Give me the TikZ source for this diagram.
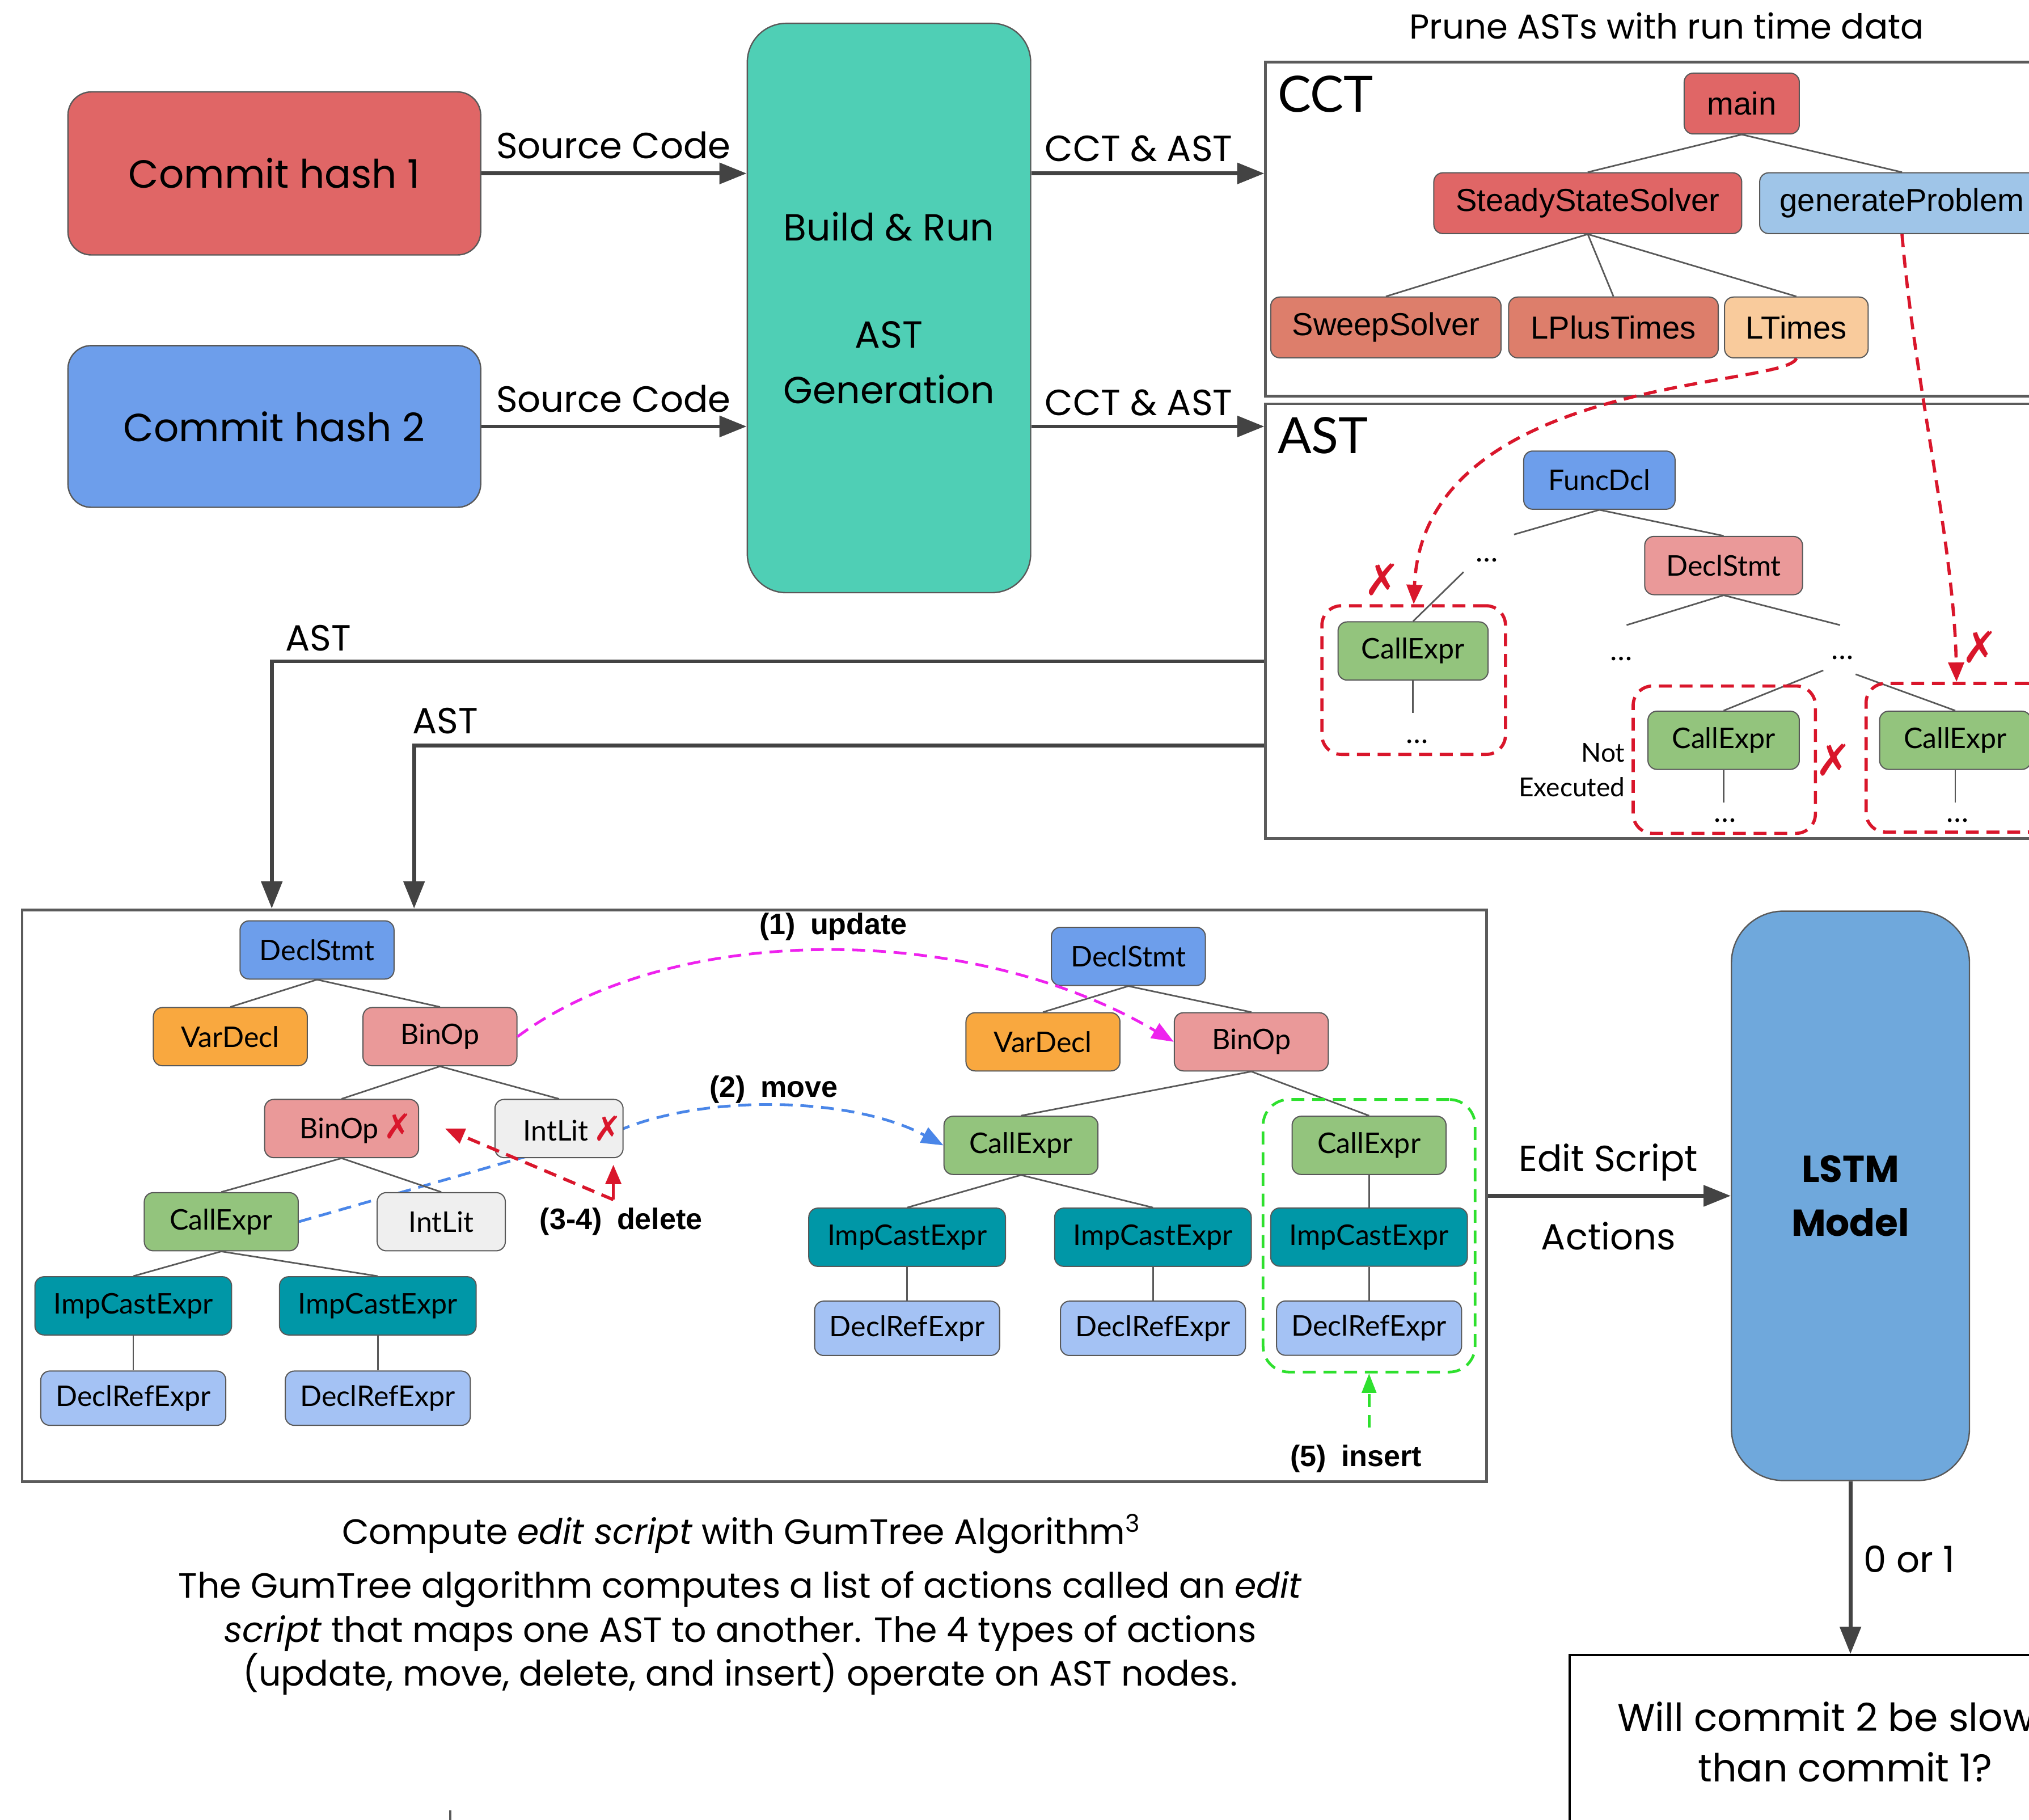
\documentclass[tikz,border=0pt]{standalone}
\usepackage{fontspec}
\usetikzlibrary{positioning,fit,backgrounds,arrows.meta}

\newfontfamily\gothic{Poppins}
\newfontfamily\gill{Lato}
\newfontfamily\arialf{Liberation Sans}
\newfontfamily\symf{DejaVu Sans}

\definecolor{flowgrey}{HTML}{434343}
\definecolor{panelgrey}{HTML}{5B5B5B}
\definecolor{nodegrey}{HTML}{595959}
\definecolor{commitred}{HTML}{E06666}
\definecolor{commitblue}{HTML}{6D9EEB}
\definecolor{buildteal}{HTML}{4FCFB5}
\definecolor{lstmblue}{HTML}{6FA8DC}
\definecolor{cctred}{HTML}{E06666}
\definecolor{cctsalmon}{HTML}{DD7E6B}
\definecolor{cctpeach}{HTML}{F9CB9C}
\definecolor{cctblue}{HTML}{9FC5E8}
\definecolor{astblue}{HTML}{6D9EEB}
\definecolor{astorange}{HTML}{F9A83F}
\definecolor{astpink}{HTML}{EA9999}
\definecolor{astgrey}{HTML}{EFEFEF}
\definecolor{astgreen}{HTML}{93C47D}
\definecolor{astteal}{HTML}{0097A7}
\definecolor{astlblue}{HTML}{A4C2F4}
\definecolor{xred}{HTML}{D9162B}
\definecolor{updmag}{HTML}{EE22EE}
\definecolor{movblue}{HTML}{4A86E8}
\definecolor{insgreen}{HTML}{2EE02E}

\newcommand{\xmark}{{\symf\fontsize{15}{15}\selectfont\color{xred}✗}}

\begin{document}
\begin{tikzpicture}[x=0.02cm, y=-0.02cm]
  \tikzset{
    flow/.style={draw=flowgrey, line width=1.7pt, -{Triangle[length=0.42cm, width=0.32cm]}},
    bigbox/.style={draw=nodegrey, line width=0.6pt, align=center, inner sep=0pt, font=\gothic\fontsize{17.3}{24.4}\selectfont},
    panel/.style={draw=panelgrey, line width=1.2pt, inner sep=0pt},
    flowlbl/.style={font=\gothic\fontsize{16}{19}\selectfont, inner sep=0pt},
    cctnode/.style={draw=nodegrey, line width=0.5pt, rounded corners=0.14cm, minimum height=0.94cm, inner sep=0pt, font=\arialf\fontsize{14}{16}\selectfont},
    astnode/.style={draw=nodegrey, line width=0.5pt, rounded corners=0.14cm, minimum height=0.9cm, inner sep=0pt, font=\gill\fontsize{12.5}{15}\selectfont},
    declstmt/.style={astnode, fill=astblue, minimum width=2.38cm},
    vardecl/.style={astnode, fill=astorange, minimum width=2.38cm},
    binop/.style={astnode, fill=astpink, minimum width=2.38cm},
    intlit/.style={astnode, fill=astgrey, minimum width=1.98cm},
    callexpr/.style={astnode, fill=astgreen, minimum width=2.38cm},
    impcast/.style={astnode, fill=astteal, minimum width=3.04cm},
    declref/.style={astnode, fill=astlblue, minimum width=2.86cm, minimum height=0.84cm},
    treeline/.style={draw=nodegrey, line width=0.7pt},
    ellip/.style={font=\gill\fontsize{13}{15}\selectfont, inner sep=0pt},
    xmk/.style={font=\symf\fontsize{19}{20}\selectfont, text=xred, inner sep=0pt},
    actlbl/.style={font=\arialf\bfseries\fontsize{13}{15}\selectfont, inner sep=0pt},
    reddash/.style={draw=xred, line width=1.4pt, dash pattern=on 0.2cm off 0.12cm},
    redbox/.style={reddash, rounded corners=0.3cm, inner sep=0pt},
    redtip/.style={-{Triangle[length=0.3cm, width=0.24cm]}},
    magdash/.style={draw=updmag, line width=1.2pt, dash pattern=on 0.2cm off 0.12cm, -{Triangle[length=0.34cm, width=0.26cm]}},
    bluedash/.style={draw=movblue, line width=1.2pt, dash pattern=on 0.2cm off 0.12cm, -{Triangle[length=0.34cm, width=0.26cm]}},
    greendash/.style={draw=insgreen, line width=1.2pt, dash pattern=on 0.2cm off 0.12cm},
  }
  \useasboundingbox (0,0) rectangle (1568,1406);
  \clip (0,0) rectangle (1568,1406);

  % commits and build
  \node[bigbox, fill=commitred, rounded corners=0.36cm, minimum width=6.38cm, minimum height=2.52cm] (commitA) at (212,134) {Commit hash 1};
  \node[bigbox, fill=commitblue, rounded corners=0.36cm, minimum width=6.38cm, minimum height=2.5cm, below=1.38cm of commitA] (commitB) {Commit hash 2};
  \node[bigbox, fill=buildteal, rounded corners=0.6cm, minimum width=4.38cm, minimum height=8.8cm, font=\gothic\fontsize{16.6}{24.4}\selectfont] (build) at (687,238) {Build \& Run\\[0.8cm]AST\\Generation};
  \node[flowlbl] (srcA) at (474,112) {Source Code};
  \node[flowlbl] (srcB) at (474,308) {Source Code};
  \node[flowlbl] (outA) at (880,115) {CCT \& AST};
  \node[flowlbl] (outB) at (880,311) {CCT \& AST};
  \node[flowlbl, font=\gothic\fontsize{15.2}{18}\selectfont] (pruneTitle) at (1288,20) {Prune ASTs with run time data};

  % pruning panels
  \node[panel, minimum width=12.84cm, minimum height=5.16cm] (cctbox) at (1299,177) {};
  \node[panel, minimum width=12.84cm, minimum height=6.72cm] (astbox) at (1299,480) {};
  \node[font=\gill\fontsize{22}{24}\selectfont, anchor=north west, inner sep=0pt] (cctTitle) at (987,58) {CCT};
  \node[font=\gill\fontsize{22}{24}\selectfont, anchor=north west, inner sep=0pt] (astTitle) at (987,322) {AST};

  \draw[flow] (commitA.east) -- (commitA.east -| build.west);
  \draw[flow] (commitB.east) -- (commitB.east -| build.west);
  \draw[flow] (commitA.east -| build.east) -- (commitA.east -| cctbox.west);
  \draw[flow] (commitB.east -| build.east) -- (commitB.east -| astbox.west);

  % CCT
  \node[cctnode, fill=cctred, minimum width=1.78cm] (main) at (1346,80) {main};
  \node[cctnode, fill=cctred, minimum width=4.76cm] (sss) at (1227,157) {SteadyStateSolver};
  \node[cctnode, fill=cctblue, minimum width=4.4cm, right=0.26cm of sss] (genp) {generateProblem};
  \node[cctnode, fill=cctsalmon, minimum width=3.56cm] (sweep) at (1071,253) {SweepSolver};
  \node[cctnode, fill=cctsalmon, minimum width=3.24cm, right=0.1cm of sweep] (lplus) {LPlusTimes};
  \node[cctnode, fill=cctpeach, minimum width=2.22cm, right=0.08cm of lplus] (ltimes) {LTimes};
  \foreach \p/\c in {main/sss, main/genp, sss/sweep, sss/lplus, sss/ltimes}
    \draw[treeline] (\p.south) -- (\c.north);

  % AST being pruned
  \node[astnode, fill=astblue, minimum width=2.34cm] (funcdcl) at (1236,371) {FuncDcl};
  \node[astnode, fill=astpink, minimum width=2.44cm] (pdecl) at (1332,437) {DeclStmt};
  \node[ellip] (dA) at (1149,433) {…};
  \node[ellip] (dB) at (1253,509) {…};
  \node[ellip] (dC) at (1424,508) {…};
  \node[callexpr, minimum width=2.32cm] (pcallA) at (1092,503) {CallExpr};
  \node[ellip] (dD) at (1095,573) {…};
  \node[callexpr, minimum width=2.34cm] (pcallB) at (1332,572) {CallExpr};
  \node[ellip] (dE) at (1333,634) {…};
  \node[callexpr, minimum width=2.34cm] (pcallC) at (1511,572) {CallExpr};
  \node[ellip] (dF) at (1513,634) {…};
  \draw[treeline] (funcdcl.south) -- (pdecl.north);
  \draw[treeline] (funcdcl.south) -- ([shift={(21,-20)}]dA.center);
  \draw[treeline] ([shift={(-18,9)}]dA.center) -- (pcallA.north);
  \draw[treeline] (pdecl.south) -- ([shift={(4,-26)}]dB.center);
  \draw[treeline] (pdecl.south) -- ([shift={(-2,-25)}]dC.center);
  \draw[treeline] ([shift={(-15,10)}]dC.center) -- (pcallB.north);
  \draw[treeline] ([shift={(10,13)}]dC.center) -- (pcallC.north);
  \draw[treeline] (pcallA.south) -- (pcallA.south |- 0,551);
  \draw[treeline] (pcallB.south) -- (pcallB.south |- 0,620);
  \draw[treeline] (pcallC.south) -- (pcallC.south |- 0,620);
  \coordinate (redAnw) at ([shift={(-12,-12)}]pcallA.north west);
  \coordinate (redAse) at ([shift={(13,57)}]pcallA.south east);
  \coordinate (redBnw) at ([shift={(-11,-19)}]pcallB.north west);
  \coordinate (redBse) at ([shift={(12,49)}]pcallB.south east);
  \coordinate (redCnw) at ([shift={(-10,-21)}]pcallC.north west);
  \coordinate (redCse) at ([shift={(12,48)}]pcallC.south east);
  \node[redbox, fit=(redAnw) (redAse)] (redA) {};
  \node[redbox, fit=(redBnw) (redBse)] (redB) {};
  \node[redbox, fit=(redCnw) (redCse)] (redC) {};
  \node[xmk] (xA) at (1068,448) {✗};
  \node[xmk] (xB) at (1417,587) {✗};
  \node[xmk] (xC) at (1530,500) {✗};
  \node[font=\gill\fontsize{11.5}{15.3}\selectfont, align=right, anchor=east, inner sep=0pt] (notExec) at (1256,595) {Not\\Executed};
  \draw[reddash, redtip] (ltimes.south) .. controls (1380,300) and (1100,290) .. (redA.north);
  \draw[reddash, redtip] (genp.south) .. controls (1480,300) and (1510,420) .. (redC.north);

  % ASTs to GumTree
  \node[panel, minimum width=22.64cm, minimum height=8.84cm] (gumbox) at (583,924) {};
  \draw[flow] ([yshift=-0.62cm]astbox.west) -| ([xshift=3.88cm]gumbox.north west);
  \draw[flow] ([yshift=-1.92cm]astbox.west) -| ([xshift=6.08cm]gumbox.north west);
  \node[flowlbl] (astA) at (246,493) {AST};
  \node[flowlbl] (astB) at (344,557) {AST};

  % old tree
  \node[declstmt] (lDecl) at (245,734) {DeclStmt};
  \node[vardecl] (lVar) at (178,801) {VarDecl};
  \node[binop] (lBin) at (340,801) {BinOp};
  \node[binop] (lBinX) at (264,872) {\hspace{0.44cm}BinOp\,\xmark};
  \node[intlit] (lIntX) at (432,872) {\hspace{0.42cm}IntLit\,\xmark};
  \node[callexpr] (lCall) at (171,944) {CallExpr};
  \node[intlit] (lInt) at (341,944) {IntLit};
  \node[impcast] (lImpA) at (103,1009) {ImpCastExpr};
  \node[impcast] (lImpB) at (292,1009) {ImpCastExpr};
  \node[declref, below=0.54cm of lImpA] (lRefA) {DeclRefExpr};
  \node[declref, below=0.54cm of lImpB] (lRefB) {DeclRefExpr};
  \foreach \p/\c in {lDecl/lVar, lDecl/lBin, lBin/lBinX, lBin/lIntX, lBinX/lCall, lBinX/lInt, lCall/lImpA, lCall/lImpB, lImpA/lRefA, lImpB/lRefB}
    \draw[treeline] (\p.south) -- (\c.north);

  % new tree
  \node[declstmt] (rDecl) at (872,739) {DeclStmt};
  \node[vardecl] (rVar) at (806,805) {VarDecl};
  \node[binop] (rBin) at (967,805) {BinOp};
  \node[callexpr] (rCallA) at (789,885) {CallExpr};
  \node[callexpr] (rCallB) at (1058,885) {CallExpr};
  \node[impcast] (rImpA) at (701,956) {ImpCastExpr};
  \node[impcast] (rImpB) at (891,956) {ImpCastExpr};
  \node[impcast, below=0.5cm of rCallB] (rImpC) {ImpCastExpr};
  \node[declref, below=0.52cm of rImpA] (rRefA) {DeclRefExpr};
  \node[declref, below=0.52cm of rImpB] (rRefB) {DeclRefExpr};
  \node[declref, below=0.52cm of rImpC] (rRefC) {DeclRefExpr};
  \foreach \p/\c in {rDecl/rVar, rDecl/rBin, rBin/rCallA, rBin/rCallB, rCallA/rImpA, rCallA/rImpB, rCallB/rImpC, rImpA/rRefA, rImpB/rRefB, rImpC/rRefC}
    \draw[treeline] (\p.south) -- (\c.north);

  % edit actions
  \node[greendash, rounded corners=0.4cm, inner xsep=0.11cm, inner ysep=0.25cm, fit=(rCallB) (rImpC) (rRefC)] (insBox) {};
  \node[actlbl] (lblUpdate) at (644,716) {(1)\enspace update};
  \node[actlbl] (lblMove) at (598,842) {(2)\enspace move};
  \node[actlbl] (lblDelete) at (480,944) {(3-4)\enspace delete};
  \node[actlbl] (lblInsert) at (1048,1127) {(5)\enspace insert};
  \draw[magdash] (lBin.east) .. controls (520,712) and (750,712) .. (rBin.west);
  \begin{scope}[on background layer]
    \draw[bluedash] (lCall.east) -- (lIntX.east) .. controls (550,845) and (660,848) .. (rCallA.west);
  \end{scope}
  \coordinate (delc) at (474,927);
  \draw[reddash, redtip] (delc) -- ([xshift=0.4cm]lBinX.east);
  \draw[draw=xred, line width=1.4pt, redtip, shorten >=0.1cm] (delc) -- (delc |- lIntX.south);
  \draw[greendash, -{Triangle[length=0.3cm, width=0.22cm]}] ([yshift=-0.84cm]insBox.south) -- (insBox.south);

  % model and output
  \node[bigbox, fill=lstmblue, rounded corners=0.8cm, minimum width=3.68cm, minimum height=8.8cm, font=\gothic\bfseries\fontsize{16.5}{23.8}\selectfont] (lstm) at (1430,924) {LSTM\\Model};
  \draw[flow] (gumbox.east) -- (lstm.west);
  \node[flowlbl] (editA) at (1243,898) {Edit Script};
  \node[flowlbl] (editB) at (1243,955) {Actions};
  \node[draw=black, line width=1pt, minimum width=8.12cm, minimum height=3.4cm, anchor=north west, inner sep=0pt] (answer) at (1212,1278) {};
  \draw[flow] (lstm.south) -- (lstm.south |- answer.north);
  \node[flowlbl, anchor=west] (binLbl) at (1440,1205) {0 or 1};
  \node[font=\gothic\fontsize{17}{22}\selectfont, align=center, inner sep=0pt] (question) at (1426,1346) {Will commit 2 be slower\\than commit 1?};

  % caption
  \node[font=\gothic\fontsize{15.4}{19.3}\selectfont, inner sep=0pt] (capTitle) at (573,1185) {Compute \textit{edit script} with GumTree Algorithm\textsuperscript{3}};
  \node[font=\gothic\fontsize{15.4}{19.3}\selectfont, align=center, inner sep=0pt] (capBody) at (572,1262) {The GumTree algorithm computes a list of actions called an \textit{edit}\\\textit{script} that maps one AST to another. The 4 types of actions\\(update, move, delete, and insert) operate on AST nodes.};
  \draw[treeline, line width=1pt] (348,1399) -- (348,1412);
\end{tikzpicture}
\end{document}
